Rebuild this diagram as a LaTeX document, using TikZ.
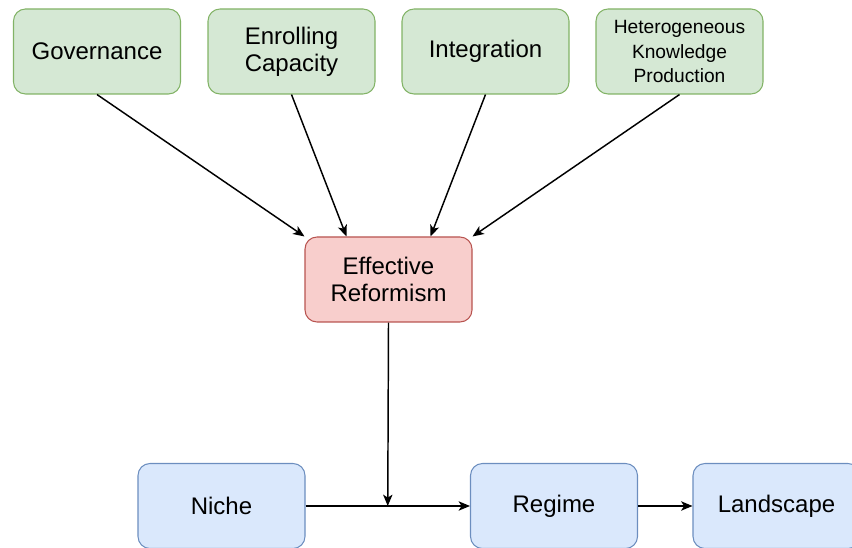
\documentclass[tikz,border=0pt]{standalone}
\usepackage{fontspec}
\setmainfont{Liberation Sans}
\usetikzlibrary{calc,arrows.meta}
\definecolor{factorfill}{HTML}{D5E8D4}
\definecolor{factorline}{HTML}{82B366}
\definecolor{reformfill}{HTML}{F8CECC}
\definecolor{reformline}{HTML}{B85450}
\definecolor{levelfill}{HTML}{DAE8FC}
\definecolor{levelline}{HTML}{6C8EBF}
\tikzset{box/.style={rounded corners=9pt,line width=0.8pt,minimum width=125.25pt,minimum height=63.75pt,
    align=center,inner sep=0.75pt,font=\fontsize{18}{20.5}\selectfont},
    factor/.style={box,draw=factorline,fill=factorfill},
    reform/.style={box,draw=reformline,fill=reformfill},
    level/.style={box,draw=levelline,fill=levelfill},
    link/.style={line width=1.1pt,-{Stealth[length=8.5pt,width=7pt,inset=2.2pt]}}}

\begin{document}
\begin{tikzpicture}[x=0.75pt,y=0.75pt,yscale=-1,xscale=1]
\path[use as bounding box] (0,0) rectangle (852,548);

%Shape: Rounded Rect [factors]
\node [factor] (gov) at (97,51.5) {Governance};
\node [factor] (enrol) at (291.5,51.5) {Enrolling\\Capacity};
\node [factor] (integ) at (485.5,51.5) {Integration};
\node [factor,font=\fontsize{14.4}{18.4}\selectfont] (hetero) at (679.5,51.5) {Heterogeneous\\Knowledge\\Production};
%Shape: Rounded Rect [reformism]
\node [reform] (reform) at (388.5,279.5) {Effective\\Reformism};
%Shape: Rounded Rect [levels]
\node [level] (niche) at (221.5,506) {Niche};
\node [level] (regime) at (554,506) {Regime};
\node [level] (land) at (776.5,506) {Landscape};

%Straight Lines [factors to reformism]
\draw [link] (gov.south) -- (reform.north west);
\draw [link] (enrol.south) -- ($(reform.north west)!.25!(reform.north east)$);
\draw [link] (integ.south) -- ($(reform.north west)!.75!(reform.north east)$);
\draw [link] (hetero.south) -- (reform.north east);
%Straight Lines [levels]
\coordinate (join) at ($(niche.east)!.5!(regime.west)$);
\draw [link] (niche.east) -- (regime.west);
\draw [link] (regime.east) -- (land.west);
\draw [link] (reform.south) -- (join);

\end{tikzpicture}
\end{document}
